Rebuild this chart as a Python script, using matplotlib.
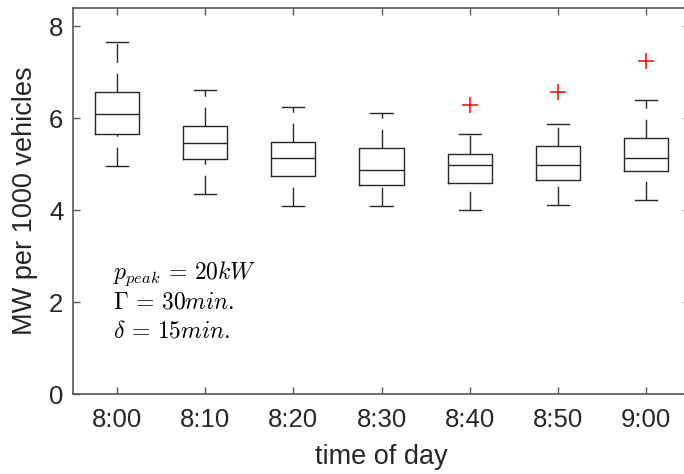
import matplotlib
matplotlib.use("Agg")
import matplotlib.pyplot as plt

plt.rcParams['font.family'] = ['Liberation Sans', 'DejaVu Sans']
plt.rcParams['mathtext.fontset'] = 'cm'
plt.rcParams['lines.scale_dashes'] = False

times = ['8:00', '8:10', '8:20', '8:30', '8:40', '8:50', '9:00']
q1 = [5.65, 5.11, 4.74, 4.54, 4.59, 4.65, 4.85]
med = [6.09, 5.45, 5.12, 4.88, 4.97, 4.97, 5.14]
q3 = [6.57, 5.83, 5.48, 5.34, 5.22, 5.40, 5.57]
whislo = [4.96, 4.34, 4.08, 4.08, 3.99, 4.11, 4.22]
whishi = [7.65, 6.60, 6.25, 6.11, 5.65, 5.88, 6.40]
outliers = [[], [], [], [], [6.28], [6.57], [7.25]]

stats = [dict(label=t, q1=a, med=m, q3=b, whislo=lo, whishi=hi, fliers=f)
         for t, a, m, b, lo, hi, f in zip(times, q1, med, q3, whislo, whishi, outliers)]

W, H = 684, 474
fig = plt.figure(figsize=(W / 100, H / 100), dpi=100)
ax = fig.add_axes([73 / W, (H - 394) / H, (690 - 73) / W, 386.4 / H])

lc = '#262626'
res = ax.bxp(stats, widths=0.5, capwidths=0.25,
             boxprops=dict(color=lc, linewidth=1.0),
             medianprops=dict(color=lc, linewidth=1.0),
             whiskerprops=dict(color=lc, linewidth=1.0, linestyle=(0, (13.5, 7.9))),
             capprops=dict(color=lc, linewidth=1.0),
             flierprops=dict(marker='+', markeredgecolor='red', markersize=11,
                             markeredgewidth=1.1, linestyle='none'))
# draw lower whiskers from bottom upward (dash phase like original)
for i, w in enumerate(res['whiskers']):
    if i % 2 == 0:
        w.set_ydata(list(w.get_ydata())[::-1])

ax.set_xlim(0.5, 7.5)
ax.set_ylim(0, 8.4)
ax.set_yticks([0, 2, 4, 6, 8])
ax.set_xticks(range(1, 8))
ax.set_xticklabels(times)

sc = '#555555'
for s in ax.spines.values():
    s.set_color(sc)
    s.set_linewidth(1.2)
ax.tick_params(direction='in', length=5, width=1.0, color=sc, labelcolor='#262626',
               labelsize=18.5, top=True, right=True)
ax.tick_params(axis='x', pad=10)
ax.tick_params(axis='y', pad=7)
ax.set_xlabel('time of day', fontsize=19.5, color='#262626', labelpad=9)
ax.set_ylabel('MW per 1000 vehicles', fontsize=19.5, color='#262626', labelpad=8)

tkw = dict(fontsize=17, color='black', ha='left', va='center')
ax.text(0.955, 2.62, r'$p_{peak}\,=\,20kW$', **tkw)
ax.text(0.955, 1.98, r'$\Gamma\,=\,30min.$', **tkw)
ax.text(0.955, 1.35, r'$\delta\,=\,15min.$', **tkw)

fig.savefig('out.png', dpi=100)
